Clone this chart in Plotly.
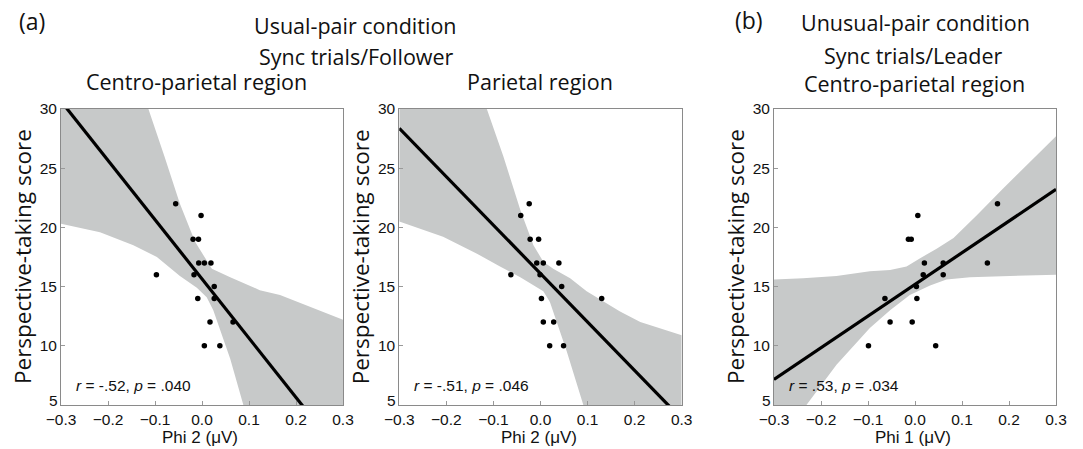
import numpy as np
import plotly.graph_objects as go

W, H = 1083, 449

# ---------------- data ----------------
score = [22, 21, 19, 19, 17, 17, 17, 16, 16, 15, 14, 14, 12, 12, 10, 10]

phi2_centro = [-0.056, -0.002, -0.019, -0.0075, -0.007, 0.005, 0.019, -0.017,
               -0.097, 0.026, 0.026, -0.009, 0.017, 0.066, 0.005, 0.038]
phi2_parietal = [-0.024, -0.042, -0.022, -0.004, -0.008, 0.006, 0.039, -0.001,
                 -0.063, 0.045, 0.002, 0.130, 0.006, 0.028, 0.0195, 0.049]
phi1_centro = [0.1755, 0.006, -0.014, -0.008, 0.020, 0.060, 0.154, 0.0175,
               0.060, 0.003, -0.064, 0.004, -0.053, -0.006, -0.099, 0.044]

# confidence band edges
band1_up_x = [-0.30, -0.114, -0.080, -0.047, -0.015, 0.021, 0.060, 0.123, 0.166, 0.237, 0.30]
band1_up_y = [30.0, 30.0, 26.0, 22.0, 18.8, 16.5, 15.8, 14.7, 14.3, 13.2, 12.2]
band1_lo_x = [-0.30, -0.217, -0.146, -0.096, -0.047, -0.011, 0.010, 0.024, 0.038, 0.060, 0.088, 0.30]
band1_lo_y = [20.3, 19.6, 18.5, 17.5, 15.9, 14.9, 14.1, 13.0, 11.3, 8.9, 5.0, 5.0]

band2_up_x = [-0.30, -0.114, -0.079, -0.043, -0.015, 0.006, 0.027, 0.063, 0.098, 0.134, 0.169, 0.212, 0.254, 0.30]
band2_up_y = [30.0, 30.0, 26.0, 21.5, 18.5, 17.1, 16.5, 15.7, 14.6, 13.7, 12.9, 12.0, 11.5, 10.9]
band2_lo_x = [-0.30, -0.207, -0.136, -0.086, -0.043, -0.015, 0.006, 0.020, 0.035, 0.056, 0.091, 0.30]
band2_lo_y = [20.5, 19.2, 17.8, 16.7, 15.8, 15.1, 14.6, 13.7, 12.0, 9.5, 5.0, 5.0]

band3_up_x = [-0.30, -0.238, -0.167, -0.096, -0.053, -0.018, 0.011, 0.046, 0.082, 0.131, 0.188, 0.245, 0.30]
band3_up_y = [15.6, 15.7, 15.9, 16.3, 16.4, 16.7, 17.4, 18.2, 19.1, 21.0, 23.3, 25.5, 27.7]
band3_lo_x = [-0.30, -0.231, -0.167, -0.096, -0.053, -0.011, 0.032, 0.067, 0.117, 0.188, 0.30]
band3_lo_y = [5.0, 5.0, 8.4, 11.5, 13.0, 14.3, 15.1, 15.6, 15.8, 15.9, 16.0]

x_tickvals = [-0.3, -0.2, -0.1, 0.0, 0.1, 0.2, 0.3]
x_ticktext = ["\u22120.3", "\u22120.2", "\u22120.1", "0.0", "0.1", "0.2", "0.3"]
y_tickvals = [5, 10, 15, 20, 25, 30]
y_ticktext = ["", "10", "15", "20", "25", "30"]

x_titles = ["Phi 2 (\u03bcV)", "Phi 2 (\u03bcV)", "Phi 1 (\u03bcV)"]
panel_titles = ["Centro-parietal region", "Parietal region", "Centro-parietal region"]
stats = ["<i>r</i> = -.52, <i>p</i> = .040",
         "<i>r</i> = -.51, <i>p</i> = .046",
         "<i>r</i> = .53, <i>p</i> = .034"]
y_title = "Perspective-taking score"

XR = [-0.3, 0.3]
YR = [5, 30]

# ---------------- layout geometry (pixels) ----------------
plot_left = [61, 399.3, 774]
plot_right = [343, 681.7, 1056]
plot_top, plot_bot = 109, 405

BAND = "#c7c9c9"
AXC = "#8a8a8a"
TICKFONT = dict(family="Liberation Sans, Arial, sans-serif", size=15.5, color="#111111")
XTFONT = dict(family="Liberation Sans, Arial, sans-serif", size=17, color="#111111")
SANS = "Open Sans, Noto Sans, sans-serif"


def px(xp):
    return xp / W


def py(yp):
    return 1 - yp / H


fig = go.Figure()
xs_all = [phi2_centro, phi2_parietal, phi1_centro]
bands = [(band1_up_x, band1_up_y, band1_lo_x, band1_lo_y),
         (band2_up_x, band2_up_y, band2_lo_x, band2_lo_y),
         (band3_up_x, band3_up_y, band3_lo_x, band3_lo_y)]

annotations = []
for i in range(3):
    xa = "x" if i == 0 else f"x{i+1}"
    ya = "y" if i == 0 else f"y{i+1}"
    ux, uy, lx, ly = bands[i]
    fig.add_trace(go.Scatter(
        x=list(ux) + list(lx)[::-1], y=list(uy) + list(ly)[::-1],
        fill="toself", fillcolor=BAND, mode="lines", line=dict(width=0, color=BAND),
        hoverinfo="skip", showlegend=False, xaxis=xa, yaxis=ya))
    xv = np.array(xs_all[i])
    slope, icpt = np.polyfit(xv, np.array(score), 1)
    lxv = np.array(XR)
    fig.add_trace(go.Scatter(
        x=lxv, y=slope * lxv + icpt, mode="lines",
        line=dict(color="black", width=3.2), showlegend=False, xaxis=xa, yaxis=ya))
    fig.add_trace(go.Scatter(
        x=xv, y=score, mode="markers", marker=dict(color="black", size=5.5),
        showlegend=False, xaxis=xa, yaxis=ya))

    axkey = "xaxis" if i == 0 else f"xaxis{i+1}"
    aykey = "yaxis" if i == 0 else f"yaxis{i+1}"
    fig.layout[axkey] = dict(
        domain=[px(plot_left[i]), px(plot_right[i])], range=XR, anchor=ya,
        tickvals=x_tickvals, ticktext=x_ticktext, ticks="inside", ticklen=4,
        tickcolor="#999999", tickwidth=1, showline=True, linecolor=AXC, linewidth=1,
        mirror=True, showgrid=False, zeroline=False, tickfont=TICKFONT, fixedrange=True,
        automargin=False)
    fig.layout[aykey] = dict(
        domain=[py(plot_bot), py(plot_top)], range=YR, anchor=xa,
        tickvals=y_tickvals, ticktext=y_ticktext, ticks="inside", ticklen=4,
        tickcolor="#999999", tickwidth=1, showline=True, linecolor=AXC, linewidth=1,
        mirror=True, showgrid=False, zeroline=False, tickfont=TICKFONT, fixedrange=True,
        automargin=False)

    cx = (plot_left[i] + plot_right[i]) / 2
    # raised "5" tick label
    annotations.append(dict(text="5", xref="paper", yref="paper",
                            x=px(plot_left[i] - 1), y=py(plot_bot - 5),
                            xanchor="right", yanchor="middle", showarrow=False, font=TICKFONT))
    # x title
    annotations.append(dict(text=x_titles[i], xref="paper", yref="paper",
                            x=px(cx - 2), y=py(437), xanchor="center", yanchor="middle",
                            showarrow=False, font=XTFONT))
    # y title
    annotations.append(dict(text=y_title, xref="paper", yref="paper",
                            x=px(plot_left[i] - 39), y=py(257), xanchor="center", yanchor="middle",
                            textangle=-90, showarrow=False,
                            font=dict(family=SANS, size=22.5, color="#111111")))
    # stats
    annotations.append(dict(text=stats[i], xref="paper", yref="paper",
                            x=px(plot_left[i] + 13), y=py(385), xanchor="left", yanchor="middle",
                            showarrow=False, font=TICKFONT))

# panel / condition titles
TS = 21.5
title_specs = [
    ("(a)", 32, 21, 23),
    ("Usual-pair condition", 355, 25, TS),
    ("Sync trials/Follower", 356, 56, TS),
    (panel_titles[0], 196, 82, TS),
    (panel_titles[1], 540, 82, TS),
    ("(b)", 749, 20, 23),
    ("Unusual-pair condition", 915, 23, TS),
    ("Sync trials/Leader", 913, 55, TS),
    (panel_titles[2], 914, 83, TS),
]
for txt, xx, yy, sz in title_specs:
    annotations.append(dict(text=txt, xref="paper", yref="paper", x=px(xx), y=py(yy),
                            xanchor="center", yanchor="middle", showarrow=False,
                            font=dict(family=SANS, size=sz, color="#111111")))

fig.update_layout(
    width=W, height=H, autosize=False,
    margin=dict(l=0, r=0, t=0, b=0, pad=0, autoexpand=False),
    paper_bgcolor="white", plot_bgcolor="white",
    annotations=annotations, showlegend=False,
)

fig.write_html("out.html",
               config={"displayModeBar": False, "staticPlot": True},
               post_script="document.body.style.margin='0';document.body.style.padding='0';")
